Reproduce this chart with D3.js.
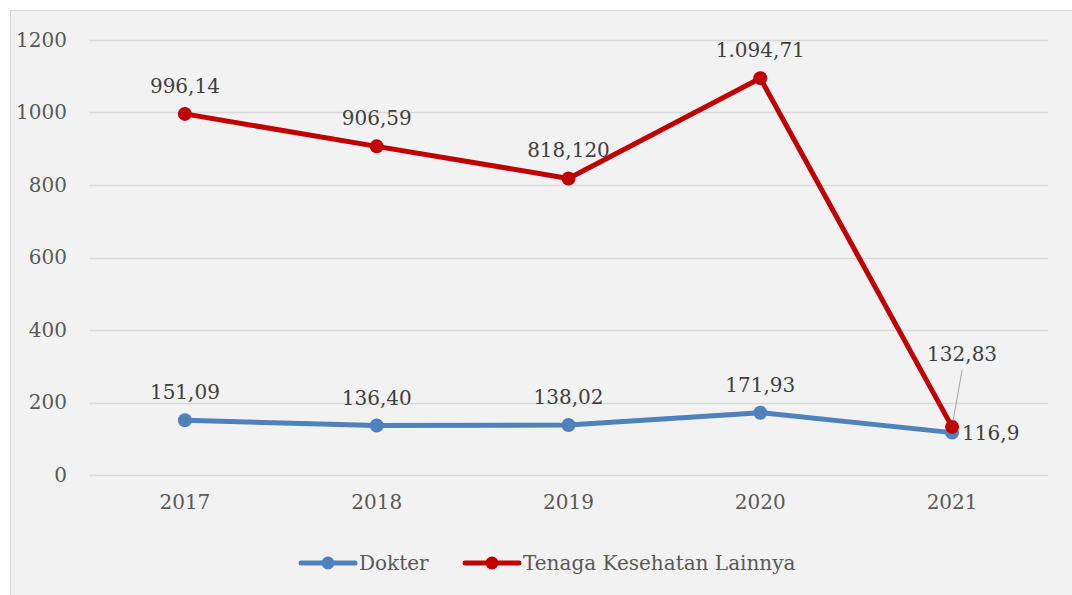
<!DOCTYPE html>
<html>
<head>
<meta charset="utf-8">
<script src="https://cdn.jsdelivr.net/npm/d3@7"></script>
<style>
  html, body { margin: 0; padding: 0; background: #fff; }
  svg { display: block; }
</style>
</head>
<body>
<div id="chart"></div>
<script>
const years = ["2017", "2018", "2019", "2020", "2021"]
const dokter = [151.09, 136.40, 138.02, 171.93, 116.9]
const tenaga = [996.14, 906.59, 818.12, 1094.71, 132.83]
const dokterLabels = ["151,09", "136,40", "138,02", "171,93", "116,9"]
const tenagaLabels = ["996,14", "906,59", "818,120", "1.094,71", "132,83"]
const yTicks = [0, 200, 400, 600, 800, 1000, 1200]

const width = 1072, height = 595
const margin = ({top: 40, right: 24, bottom: 120, left: 89})
const font = "'DejaVu Serif', serif"
const fs = 20

const svg = d3.select("#chart").append("svg")
  .attr("width", width)
  .attr("height", height)

// chart area background + border
svg.append("rect")
  .attr("x", 0).attr("y", 0).attr("width", width).attr("height", height)
  .attr("fill", "#ffffff")
svg.append("rect")
  .attr("x", 10.5).attr("y", 10.5).attr("width", width).attr("height", height)
  .attr("fill", "#f2f2f2")
  .attr("stroke", "#d9d9d9")

const x = d3.scaleBand()
  .domain(years)
  .range([margin.left, width - margin.right])

const y = d3.scaleLinear()
  .domain([0, 1200])
  .range([height - margin.bottom, margin.top])

const cx = d => x(d) + x.bandwidth() / 2

// gridlines
svg.append("g")
  .selectAll("line")
  .data(yTicks)
  .join("line")
  .attr("x1", margin.left)
  .attr("x2", width - margin.right)
  .attr("y1", d => Math.round(y(d)) + 0.5)
  .attr("y2", d => Math.round(y(d)) + 0.5)
  .attr("stroke", "#d9d9d9")
  .attr("stroke-width", 1.5)

// y axis labels
const yAxis = g => g
  .attr("transform", `translate(${margin.left - 22},0)`)
  .call(d3.axisLeft(y).tickValues(yTicks).tickFormat(d3.format("d")).tickSize(0).tickPadding(0))
  .call(g => g.select(".domain").remove())
  .call(g => g.selectAll("text")
    .attr("font-family", font)
    .attr("font-size", fs)
    .attr("fill", "#595959"))

// x axis labels
const xAxis = g => g
  .attr("transform", `translate(0,${y(0) + 20})`)
  .call(d3.axisBottom(x).tickSize(0).tickPadding(0))
  .call(g => g.select(".domain").remove())
  .call(g => g.selectAll("text")
    .attr("font-family", font)
    .attr("font-size", fs)
    .attr("fill", "#595959"))

svg.append("g").call(yAxis)
svg.append("g").call(xAxis)

const series = [
  {name: "Dokter", values: dokter, labels: dokterLabels, color: "#4f81bd"},
  {name: "Tenaga Kesehatan Lainnya", values: tenaga, labels: tenagaLabels, color: "#c00000"}
]

const line = d3.line()
  .x((d, i) => cx(years[i]))
  .y(d => y(d))

series.forEach(s => {
  svg.append("path")
    .datum(s.values)
    .attr("fill", "none")
    .attr("stroke", s.color)
    .attr("stroke-width", 5)
    .attr("stroke-linejoin", "round")
    .attr("d", line)

  svg.append("g")
    .selectAll("circle")
    .data(s.values)
    .join("circle")
    .attr("cx", (d, i) => cx(years[i]))
    .attr("cy", d => y(d))
    .attr("r", 7)
    .attr("fill", s.color)
})

// data labels
const labelG = svg.append("g")
  .attr("font-family", font)
  .attr("font-size", fs)
  .attr("fill", "#404040")

series.forEach((s, si) => {
  s.values.forEach((v, i) => {
    let lx = cx(years[i]), ly = y(v) - 21, anchor = "middle"
    if (si === 0 && i === 4) { lx = cx(years[i]) + 10; ly = y(v) + 7; anchor = "start" }
    if (si === 1 && i === 4) { lx = cx(years[i]) + 10; ly = y(v) - 66 }
    labelG.append("text")
      .attr("x", lx)
      .attr("y", ly)
      .attr("text-anchor", anchor)
      .text(s.labels[i])
  })
})

// leader line for 2021 Tenaga label
svg.append("line")
  .attr("x1", cx("2021") + 10)
  .attr("y1", y(tenaga[4]) - 57)
  .attr("x2", cx("2021") + 1)
  .attr("y2", y(tenaga[4]) - 6)
  .attr("stroke", "#a6a6a6")
  .attr("stroke-width", 1)

// legend
const legendY = 563
const legendItems = [
  {s: series[0], x: 301},
  {s: series[1], x: 465}
]
const legend = svg.append("g")
legendItems.forEach(it => {
  legend.append("line")
    .attr("x1", it.x).attr("x2", it.x + 54)
    .attr("y1", legendY).attr("y2", legendY)
    .attr("stroke", it.s.color)
    .attr("stroke-width", 5)
    .attr("stroke-linecap", "round")
  legend.append("circle")
    .attr("cx", it.x + 27).attr("cy", legendY)
    .attr("r", 6.5)
    .attr("fill", it.s.color)
  legend.append("text")
    .attr("x", it.x + 58)
    .attr("y", legendY + 7)
    .attr("font-family", font)
    .attr("font-size", fs)
    .attr("fill", "#595959")
    .text(it.s.name)
})
</script>
</body>
</html>
